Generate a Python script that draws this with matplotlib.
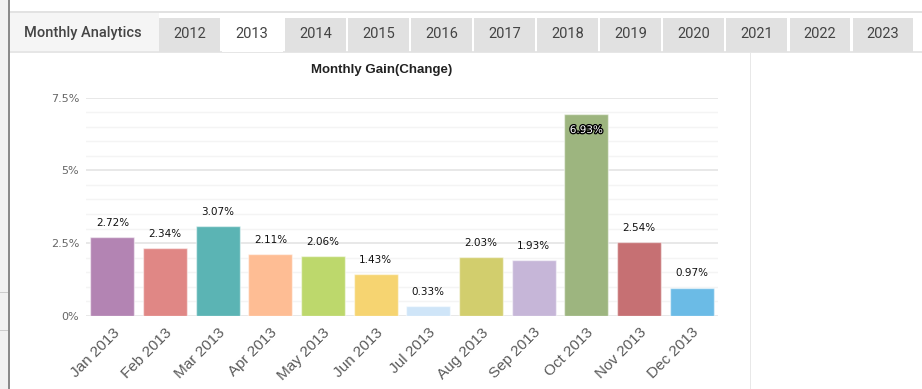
import matplotlib
matplotlib.use("Agg")
import matplotlib.pyplot as plt
import matplotlib.patheffects as pe
from matplotlib.patches import Rectangle
import numpy as np

months = ["Jan 2013", "Feb 2013", "Mar 2013", "Apr 2013", "May 2013", "Jun 2013",
          "Jul 2013", "Aug 2013", "Sep 2013", "Oct 2013", "Nov 2013", "Dec 2013"]
gains = [2.72, 2.34, 3.07, 2.11, 2.06, 1.43, 0.33, 2.03, 1.93, 6.93, 2.54, 0.97]
colors = ["#b384b3", "#e08785", "#5bb4b4", "#febd94", "#bdd86c", "#f6d471",
          "#cfe5f8", "#d2ce6d", "#c6b6d8", "#9db57f", "#c67073", "#6bbbe6"]
ytick_vals = [0, 2.5, 5, 7.5]
ytick_labels = ["0%", "2.5%", "5%", "7.5%"]
tabs = ["2012", "2013", "2014", "2015", "2016", "2017", "2018", "2019",
        "2020", "2021", "2022", "2023"]
active_tab = "2013"

W, H = 922, 389
fig = plt.figure(figsize=(W / 100, H / 100), dpi=100)
fig.patch.set_facecolor("white")

def px(x, y, w, h, **kw):
    # rectangle in pixel coords (top-left origin)
    fig.patches.append(Rectangle((x / W, 1 - (y + h) / H), w / W, h / H,
                                 transform=fig.transFigure, **kw))

# left strip
px(0, 0, 8, H, facecolor="#f1f1f1", edgecolor="none")
px(8, 0, 1.5, H, facecolor="#8a8a8a", edgecolor="none")
px(0, 292, 8, 1, facecolor="#cccccc", edgecolor="none")
px(0, 330, 8, 1, facecolor="#cccccc", edgecolor="none")

# tab bar
px(9.5, 11.5, W, 1.2, facecolor="#e2e2e2", edgecolor="none")
px(9.5, 12.5, 149, 39.5, facecolor="#f5f5f5", edgecolor="none")
px(9.5, 51.5, W, 1.2, facecolor="#e6e6e6", edgecolor="none")
fig.text(83 / W, 1 - 33.5 / H, "Monthly Analytics", family="Roboto",
         fontweight="medium", fontsize=10.5, color="#444444", ha="center", va="center")
x0, step, tw = 159, 63.05, 60.5
for i, t in enumerate(tabs):
    xx = x0 + i * step
    fc = "white" if t == active_tab else "#e1e1e1"
    px(xx, 18, tw, 34, facecolor=fc, edgecolor="none")
    fig.text((xx + tw / 2) / W, 1 - 34 / H, t, family="Roboto", fontsize=10.5,
             color="#444444", ha="center", va="center")

# right divider
px(749.5, 53, 1, H, facecolor="#e8e8e8", edgecolor="none")

# chart
ax = fig.add_axes([86 / W, 1 - 315.7 / H, (718 - 86) / W, (315.7 - 97.7) / H])
ax.set_facecolor("white")
x = np.arange(len(months))
ax.set_xlim(-0.5, len(months) - 0.5)
ax.set_ylim(0, 7.5)

for v in np.arange(0.5, 7.5, 0.5):
    if v not in ytick_vals:
        ax.axhline(v, color="#f4f4f4", lw=1, zorder=0)
for v in ytick_vals:
    ax.axhline(v, color="#e6e6e6", lw=1.3, zorder=0)

bars = ax.bar(x, gains, width=0.84, color=colors, edgecolor=[(1, 1, 1, 0.5)] * 12,
              linewidth=1, zorder=2)

for xi, g in zip(x, gains):
    if g > 6:
        ax.text(xi, g - 0.54, f"{g:.2f}%", ha="center", va="center", fontsize=7.5,
                family="DejaVu Sans", color="white", zorder=4,
                path_effects=[pe.withStroke(linewidth=1.8, foreground="black")])
    else:
        ax.annotate(f"{g:.2f}%", (xi, g), xytext=(0, 6.5), textcoords="offset points",
                    ha="center", va="bottom", fontsize=7.5, family="DejaVu Sans",
                    color="#111111", zorder=4)

ax.set_yticks(ytick_vals)
ax.set_yticklabels(ytick_labels, fontsize=8, color="#666666", family="DejaVu Sans")
ax.set_xticks(x)
ax.set_xticklabels(months, rotation=45, ha="right", rotation_mode="anchor",
                   fontsize=11, color="#5a5a5a", family="Liberation Sans")
ax.tick_params(axis="both", length=0)
ax.tick_params(axis="y", pad=5)
ax.tick_params(axis="x", pad=7)
for s in ax.spines.values():
    s.set_visible(False)

fig.text(382 / W, 1 - 70 / H, "Monthly Gain(Change)", fontsize=9.5, fontweight="bold",
         color="#222222", ha="center", va="center", family="Liberation Sans")

fig.savefig("out.png", dpi=100)
